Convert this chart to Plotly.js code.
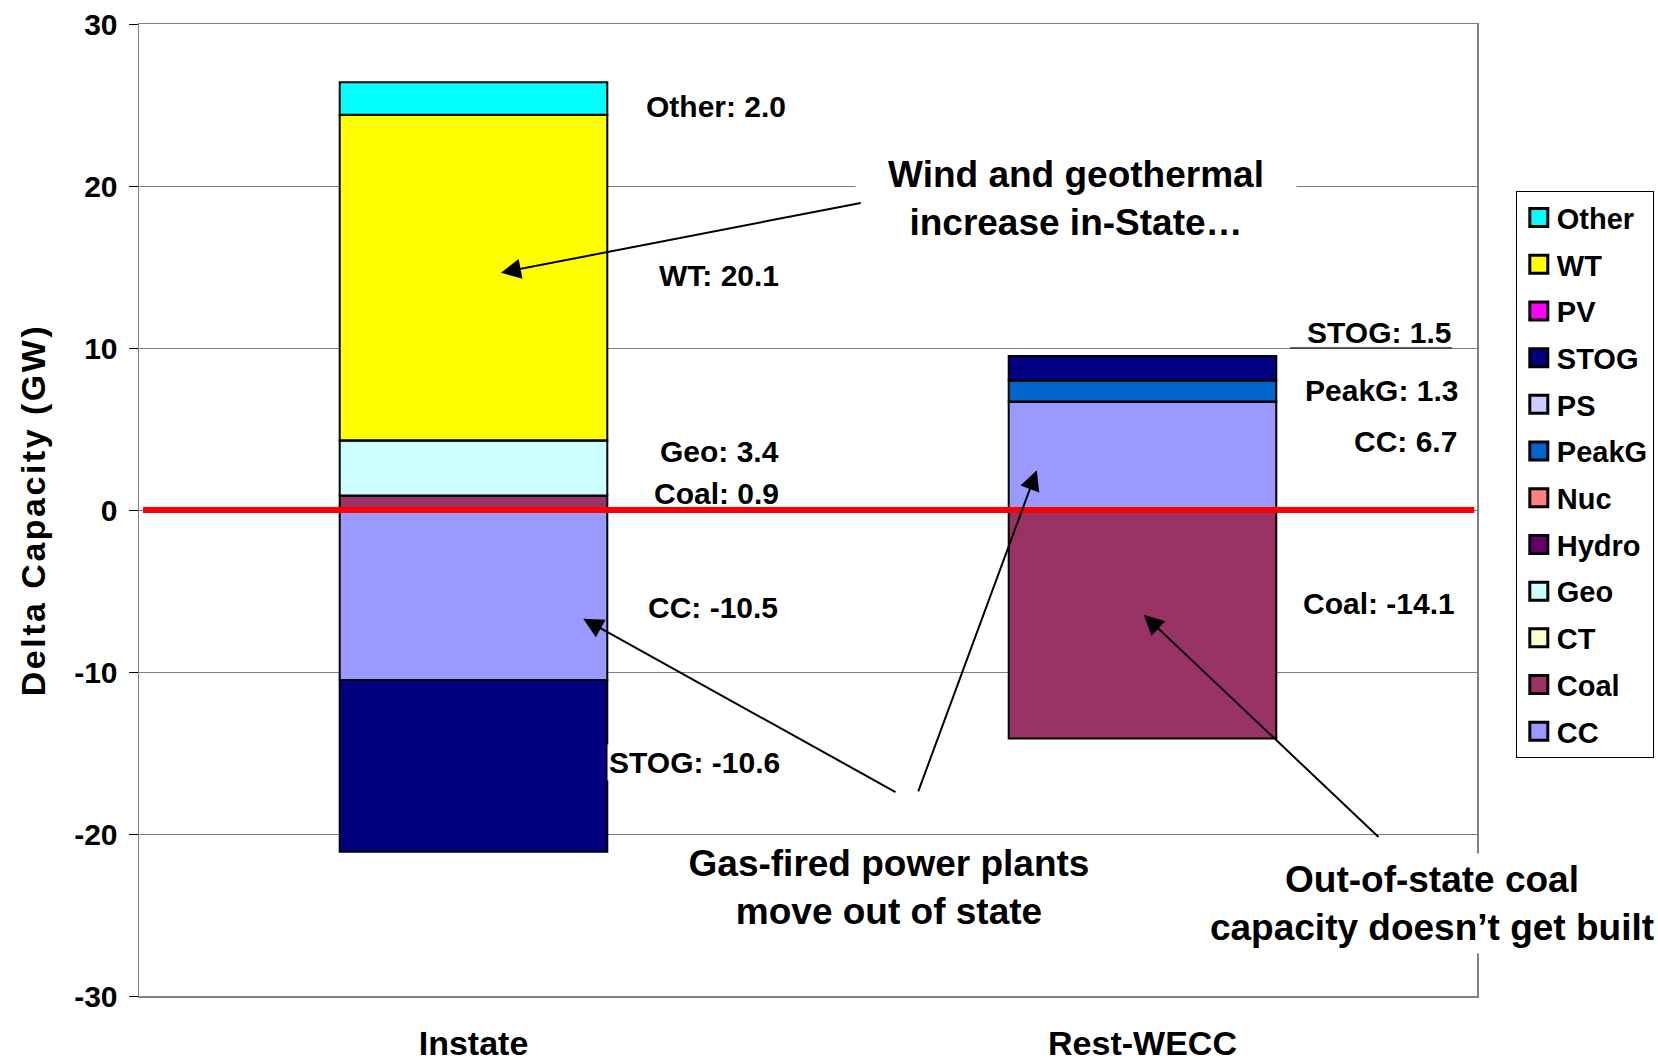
<!DOCTYPE html>
<html>
<head>
<meta charset="utf-8">
<script src="https://cdn.plot.ly/plotly-3.0.1.min.js"></script>
<style>
  html, body { margin: 0; padding: 0; background: #ffffff; }
  #chart { width: 1658px; height: 1064px; }
  .ytitle { letter-spacing: 2.5px; }
  .legendpoints path { transform: translate(22px, 0px) scale(1.5); }
</style>
</head>
<body>
<div id="chart"></div>
<script>
// Regions on the x axis
const regions = ['Instate', 'Rest-WECC'];

// Technologies, listed from the bottom of each stack upward
const techs = ['CC', 'Coal', 'CT', 'Geo', 'Hydro', 'Nuc', 'PeakG', 'PS', 'STOG', 'PV', 'WT', 'Other'];

// Change in capacity (GW) per technology: [Instate, Rest-WECC]
const CC    = [-10.5,  6.7];
const Coal  = [  0.9, -14.1];
const CT    = [  0.0,  0.0];
const Geo   = [  3.4,  0.0];
const Hydro = [  0.0,  0.0];
const Nuc   = [  0.0,  0.0];
const PeakG = [  0.0,  1.3];
const PS    = [  0.0,  0.0];
const STOG  = [-10.6,  1.5];
const PV    = [  0.0,  0.0];
const WT    = [ 20.1,  0.0];
const Other = [  2.0,  0.0];

const yTicks = [-30, -20, -10, 0, 10, 20, 30];

const values = { CC, Coal, CT, Geo, Hydro, Nuc, PeakG, PS, STOG, PV, WT, Other };

const colors = {
  CC: '#9999FF', Coal: '#993366', CT: '#FFFFCC', Geo: '#CCFFFF',
  Hydro: '#660066', Nuc: '#FF8080', PeakG: '#0066CC', PS: '#CCCCFF',
  STOG: '#000080', PV: '#FF00FF', WT: '#FFFF00', Other: '#00FFFF'
};

const FONT = 'Liberation Sans, Arial, sans-serif';

// Legend lists the top of the stack first
const traces = techs.map((t, i) => ({
  type: 'bar',
  name: t,
  legendgroup: t,
  legendrank: techs.length - i,
  x: regions,
  y: values[t],
  marker: { color: colors[t], line: { color: '#000000', width: 2 } },
  hoverinfo: 'name+y'
}));

// Value labels beside the bars: [tech, region index, x position, y position]
const labelSpots = [
  ['Other', 0, 0.470, 24.9],
  ['WT',    0, 0.460, 14.5],
  ['Geo',   0, 0.460, 3.6],
  ['Coal',  0, 0.460, 1.0],
  ['CC',    0, 0.458, -6.0],
  ['STOG',  0, 0.461, -15.6],
  ['STOG',  1, 1.466, 10.95],
  ['PeakG', 1, 1.475, 7.4],
  ['CC',    1, 1.473, 4.25],
  ['Coal',  1, 1.470, -5.8]
];

const labelAnnotations = labelSpots.map(([t, i, xp, yp]) => ({
  xref: 'x', yref: 'y', x: xp, y: yp,
  xanchor: 'right', yanchor: 'middle',
  text: t + ': ' + values[t][i].toFixed(1),
  showarrow: false,
  font: { family: FONT, size: 30, color: '#000000', weight: 'bold' },
  bgcolor: (t === 'STOG' && i === 0) ? '#ffffff' : 'rgba(0,0,0,0)',
  borderpad: 1
}));

// Callout texts
const calloutFont = { family: FONT, size: 37, color: '#000000', weight: 'bold' };
const callouts = [
  { x: 0.900, y: 19.2, text: 'Wind and geothermal<br>increase in-State…', width: 430 },
  { x: 0.621, y: -23.3, text: 'Gas-fired power plants<br>move out of state', width: 480 },
  { x: 1.432, y: -24.3, text: 'Out-of-state coal<br>capacity doesn’t get built', width: 452 }
].map(c => ({
  xref: 'x', yref: 'y', x: c.x, y: c.y,
  xanchor: 'center', yanchor: 'middle',
  text: c.text, showarrow: false, width: c.width,
  align: 'center', font: calloutFont,
  bgcolor: '#ffffff', borderpad: 5
}));

// Arrows: head (x, y) and tail (ax, ay) in axis units
const arrows = [
  { x: 0.041, y: 14.65, ax: 0.581, ay: 18.97 },
  { x: 0.164, y: -6.71, ax: 0.633, ay: -17.46 },
  { x: 0.842, y: 2.45,  ax: 0.664, ay: -17.46 },
  { x: 1.002, y: -6.47, ax: 1.355, ay: -20.27 }
].map(a => ({
  xref: 'x', yref: 'y', axref: 'x', ayref: 'y',
  x: a.x, y: a.y, ax: a.ax, ay: a.ay,
  text: '', showarrow: true,
  arrowhead: 2, arrowsize: 2, arrowwidth: 2, arrowcolor: '#000000',
  standoff: 0, startstandoff: 0
}));

const layout = {
  width: 1658,
  height: 1064,
  margin: { l: 139, r: 181, t: 24, b: 68, autoexpand: false },
  paper_bgcolor: '#ffffff',
  plot_bgcolor: '#ffffff',
  barmode: 'relative',
  bargap: 0.6,
  showlegend: true,
  legend: {
    x: 1.029, y: 0.828, xanchor: 'left', yanchor: 'top',
    traceorder: 'grouped',
    tracegroupgap: 6,
    bgcolor: '#ffffff', bordercolor: '#000000', borderwidth: 1,
    font: { family: FONT, size: 29, color: '#000000', weight: 'bold' }
  },
  xaxis: {
    type: 'category',
    range: [-0.5, 1.5],
    showgrid: false,
    showline: true, mirror: true, linecolor: '#808080', linewidth: 1.5,
    ticks: '',
    ticklabelstandoff: 17,
    tickfont: { family: FONT, size: 34, color: '#000000', weight: 'bold' },
    zeroline: false,
    fixedrange: true
  },
  yaxis: {
    range: [-30, 30],
    tickvals: yTicks,
    ticktext: yTicks.map(String),
    showgrid: true, gridcolor: '#7f7f7f', gridwidth: 1,
    showline: true, mirror: true, linecolor: '#808080', linewidth: 1.5,
    ticks: 'outside', ticklen: 9, tickcolor: '#000000', tickwidth: 1,
    ticklabelstandoff: 5,
    tickfont: { family: FONT, size: 30, color: '#000000', weight: 'bold' },
    zeroline: false,
    title: {
      text: 'Delta Capacity (GW)',
      font: { family: FONT, size: 34, color: '#000000', weight: 'bold' },
      standoff: 18
    },
    fixedrange: true
  },
  shapes: [
    // zero line drawn above the bars
    { type: 'line', xref: 'paper', yref: 'y', x0: 0.003, x1: 0.998, y0: 0, y1: 0,
      line: { color: '#FF0000', width: 6 }, layer: 'above' },
    // rule under the Rest-WECC STOG label
    { type: 'line', xref: 'x', yref: 'y', x0: 1.2205, x1: 1.4626, y0: 10, y1: 10,
      line: { color: '#333333', width: 1.5 }, layer: 'above' }
  ],
  annotations: [...labelAnnotations, ...callouts, ...arrows]
};

Plotly.newPlot('chart', traces, layout, { displayModeBar: false, staticPlot: true });
</script>
</body>
</html>
